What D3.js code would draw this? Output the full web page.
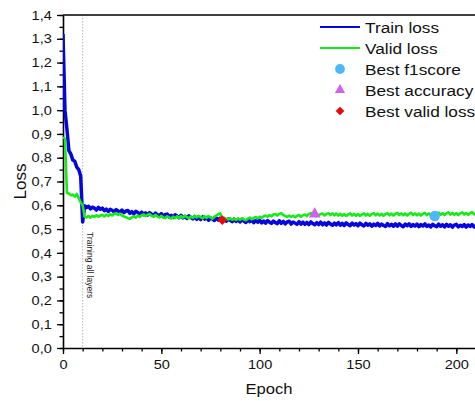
<!DOCTYPE html>
<html>
<head>
<meta charset="utf-8">
<script src="https://cdn.jsdelivr.net/npm/d3@7"></script>
<style>
  body { margin: 0; background: #fff; }
  text { font-family: "Liberation Sans", Arial, sans-serif; }
</style>
</head>
<body>
<div id="chart"></div>
<script>
// loss per epoch
var trainLoss = [
  1.32, 1.00, 0.92, 0.83, 0.815, 0.79, 0.785, 0.76, 0.75, 0.722,
  0.530,
  0.598, 0.591, 0.596, 0.585, 0.592, 0.588, 0.580, 0.591, 0.583,
  0.588, 0.577, 0.584, 0.574, 0.583, 0.579, 0.572, 0.582, 0.576, 0.571,
  0.580, 0.569, 0.576, 0.578, 0.566, 0.573, 0.564, 0.575, 0.570, 0.562,
  0.571, 0.561, 0.568, 0.559, 0.569, 0.563, 0.556, 0.567, 0.560, 0.555,
  0.565, 0.553, 0.561, 0.563, 0.551, 0.558, 0.549, 0.560, 0.555, 0.548,
  0.558, 0.547, 0.554, 0.545, 0.556, 0.549, 0.543, 0.553, 0.541, 0.551,
  0.540, 0.551, 0.542, 0.548, 0.537, 0.547, 0.542, 0.536, 0.546, 0.538,
  0.546, 0.535, 0.543, 0.533, 0.542, 0.537, 0.531, 0.542, 0.532, 0.540,
  0.530, 0.541, 0.533, 0.528, 0.539, 0.531, 0.537, 0.527, 0.536, 0.529,
  0.537, 0.526, 0.534, 0.525, 0.536, 0.529, 0.524, 0.534, 0.527, 0.523,
  0.535, 0.524, 0.532, 0.522, 0.530, 0.533, 0.521, 0.530, 0.525, 0.520,
  0.531, 0.521, 0.529, 0.520, 0.528, 0.519, 0.530, 0.523, 0.518, 0.527,
  0.519, 0.529, 0.518, 0.526, 0.517, 0.528, 0.521, 0.516, 0.525, 0.518,
  0.527, 0.516, 0.524, 0.515, 0.526, 0.519, 0.514, 0.525, 0.517, 0.523,
  0.514, 0.525, 0.518, 0.513, 0.524, 0.516, 0.522, 0.512, 0.521, 0.515,
  0.524, 0.513, 0.521, 0.515, 0.511, 0.523, 0.514, 0.520, 0.512, 0.522,
  0.512, 0.522, 0.515, 0.510, 0.521, 0.514, 0.522, 0.511, 0.519, 0.513,
  0.521, 0.510, 0.519, 0.513, 0.522, 0.511, 0.517, 0.509, 0.520, 0.514,
  0.510, 0.521, 0.512, 0.518, 0.509, 0.520, 0.512, 0.518, 0.508, 0.517,
  0.520, 0.509, 0.516, 0.511, 0.519, 0.508, 0.517, 0.511, 0.519, 0.509,
  0.514
];

var validLoss = [
  0.886, 0.880, 0.652, 0.650, 0.642, 0.645, 0.636, 0.648, 0.630, 0.612, 0.600, 0.552,
  0.549, 0.555, 0.548, 0.556, 0.551, 0.558, 0.552, 0.557,
  0.560, 0.553, 0.561, 0.555, 0.563, 0.557, 0.564, 0.566, 0.559, 0.565,
  0.557, 0.553, 0.550, 0.546, 0.543, 0.549, 0.554, 0.548, 0.557, 0.551,
  0.558, 0.562, 0.554, 0.560, 0.564, 0.556, 0.552, 0.560, 0.553, 0.549,
  0.556, 0.549, 0.546, 0.554, 0.548, 0.544, 0.552, 0.546, 0.554, 0.547,
  0.555, 0.548, 0.556, 0.550, 0.545, 0.553, 0.547, 0.555, 0.549, 0.556,
  0.550, 0.545, 0.554, 0.547, 0.555, 0.549, 0.544, 0.552, 0.557, 0.563,
  0.566, 0.540, 0.547, 0.542, 0.540, 0.546, 0.539, 0.544, 0.538, 0.545,
  0.539, 0.546, 0.541, 0.537, 0.544, 0.548, 0.541, 0.547, 0.551, 0.545,
  0.552, 0.547, 0.554, 0.557, 0.552, 0.559, 0.554, 0.561, 0.563, 0.557,
  0.564, 0.567, 0.559, 0.555, 0.551, 0.557, 0.551, 0.556, 0.550, 0.556,
  0.559, 0.552, 0.558, 0.561, 0.555, 0.563, 0.567, 0.560, 0.558, 0.554,
  0.559, 0.563, 0.565, 0.557, 0.564, 0.567, 0.559, 0.566, 0.558, 0.565,
  0.557, 0.564, 0.556, 0.563, 0.555, 0.561, 0.566, 0.557, 0.564, 0.556,
  0.563, 0.555, 0.561, 0.566, 0.557, 0.564, 0.556, 0.563, 0.567, 0.558,
  0.565, 0.557, 0.564, 0.556, 0.563, 0.567, 0.558, 0.565, 0.557, 0.564,
  0.568, 0.559, 0.566, 0.558, 0.565, 0.557, 0.564, 0.569, 0.559, 0.566,
  0.558, 0.565, 0.557, 0.564, 0.568, 0.559, 0.566, 0.558, 0.565, 0.558,
  0.565, 0.569, 0.560, 0.567, 0.559, 0.566, 0.570, 0.561, 0.568, 0.560,
  0.567, 0.559, 0.566, 0.570, 0.561, 0.568, 0.560, 0.567, 0.571, 0.562,
  0.566
];

// best-epoch markers [epoch, loss]
var bestF1 = [189, 0.555];
var bestAcc = [128, 0.563];
var bestValid = [81, 0.538];
var unfreezeEpoch = 10;

var xTicks = [0, 50, 100, 150, 200];
var yTicks = [0, 0.1, 0.2, 0.3, 0.4, 0.5, 0.6, 0.7, 0.8, 0.9, 1.0, 1.1, 1.2, 1.3, 1.4];

var W = 475, H = 401;
var margin = {top: 15, right: 0, bottom: 53, left: 63};
var width = W - margin.left - margin.right,
    height = H - margin.top - margin.bottom;

var svg = d3.select("#chart")
  .append("svg")
    .attr("width", W)
    .attr("height", H)
  .append("g")
    .attr("transform", `translate(${margin.left},${margin.top})`);

var x = d3.scaleLinear().domain([0, 210]).range([0, 413]);
var y = d3.scaleLinear().domain([0, 1.4]).range([height, 0]);

var comma = function(d) { return d3.format(".1f")(d).replace(".", ","); };

svg.append("clipPath").attr("id", "plotclip")
  .append("rect").attr("width", width).attr("height", height);

// dotted marker where all layers get trained
svg.append("line")
  .attr("x1", x(unfreezeEpoch)).attr("x2", x(unfreezeEpoch))
  .attr("y1", 0).attr("y2", height)
  .attr("stroke", "#aaa")
  .attr("stroke-width", 0.8)
  .attr("stroke-dasharray", "1.5,1.5");

svg.append("text")
  .attr("transform", `translate(${x(unfreezeEpoch) + 4.5},${y(0.5) + 3}) rotate(90)`)
  .style("font-size", "8.5px")
  .attr("fill", "#222")
  .text("Training all layers");

// minor ticks
svg.append("g")
  .attr("transform", `translate(0,${height})`)
  .call(d3.axisBottom(x).tickValues(d3.range(0, 211, 10)).tickSize(3.5).tickFormat(""))
  .call(function(g) { g.select(".domain").remove(); })
  .selectAll("line").attr("stroke-width", 1.3);

svg.append("g")
  .call(d3.axisLeft(y).tickValues(d3.range(0, 1.41, 0.05)).tickSize(3.5).tickFormat(""))
  .call(function(g) { g.select(".domain").remove(); })
  .selectAll("line").attr("stroke-width", 1.3);

// major axes (labels a bit wide, like the original)
var xAxis = svg.append("g")
  .attr("transform", `translate(0,${height})`)
  .call(d3.axisBottom(x).tickValues(xTicks).tickSize(6).tickSizeOuter(0).tickPadding(6));
xAxis.select(".domain").attr("stroke-width", 1.6);
xAxis.selectAll("line").attr("stroke-width", 1.3);
xAxis.selectAll("text").style("font-size", "13px").attr("fill", "#111")
  .attr("transform", "scale(1.12,1)");

var yAxis = svg.append("g")
  .call(d3.axisLeft(y).tickValues(yTicks).tickFormat(comma).tickSize(6).tickSizeOuter(0).tickPadding(4));
yAxis.select(".domain").attr("stroke-width", 1.6);
yAxis.selectAll("line").attr("stroke-width", 1.3);
yAxis.selectAll("text").style("font-size", "13px").attr("fill", "#111")
  .attr("transform", "scale(1.12,1)");

// top frame
svg.append("line")
  .attr("x1", 0).attr("x2", width)
  .attr("y1", 0).attr("y2", 0)
  .attr("stroke", "#000").attr("stroke-width", 1.6);

// lines
var line = d3.line()
  .x(function(d, i) { return x(i); })
  .y(function(d) { return y(d); });

var plot = svg.append("g").attr("clip-path", "url(#plotclip)");

plot.append("path")
  .datum(trainLoss)
  .attr("fill", "none")
  .attr("stroke", "#0505e0")
  .attr("stroke-width", 3.5)
  .attr("stroke-linejoin", "round")
  .attr("d", line);

plot.append("path")
  .datum(validLoss)
  .attr("fill", "none")
  .attr("stroke", "#18ea18")
  .attr("stroke-width", 2.6)
  .attr("stroke-linejoin", "round")
  .attr("d", line);

// best markers
var f1Color = "#4db8f7", accColor = "#d35ef0", validColor = "#e80a0a";
plot.append("path")
  .attr("d", d3.symbol(d3.symbolCircle, 85)())
  .attr("transform", `translate(${x(bestF1[0])},${y(bestF1[1])})`)
  .attr("fill", f1Color);
plot.append("path")
  .attr("d", d3.symbol(d3.symbolTriangle, 60)())
  .attr("transform", `translate(${x(bestAcc[0])},${y(bestAcc[1])})`)
  .attr("fill", accColor);
plot.append("path")
  .attr("d", d3.symbol(d3.symbolSquare, 48)())
  .attr("transform", `translate(${x(bestValid[0])},${y(bestValid[1])}) rotate(45)`)
  .attr("fill", validColor);

// axis titles
svg.append("text")
  .attr("transform", `translate(${width / 2},${height + 46}) scale(1.11,1)`)
  .style("text-anchor", "middle")
  .style("font-size", "15px")
  .attr("fill", "#111")
  .text("Epoch");

svg.append("text")
  .attr("transform", "rotate(-90)")
  .attr("x", -height / 2)
  .attr("y", -margin.left + 26)
  .style("text-anchor", "middle")
  .style("font-size", "17px")
  .attr("fill", "#111")
  .text("Loss");

// legend
var legend = svg.append("g").attr("transform", "translate(257,12)");
var items = [
  {name: "Train loss", kind: "line", color: "#0505e0"},
  {name: "Valid loss", kind: "line", color: "#18ea18"},
  {name: "Best f1score", kind: d3.symbolCircle, size: 75, color: f1Color},
  {name: "Best accuracy", kind: d3.symbolTriangle, size: 45, color: accColor},
  {name: "Best valid loss", kind: d3.symbolSquare, size: 38, color: validColor}
];
items.forEach(function(it, i) {
  var row = legend.append("g").attr("transform", `translate(0,${i * 21})`);
  if (it.kind === "line") {
    row.append("line")
      .attr("x1", 0).attr("x2", 40)
      .attr("stroke", it.color).attr("stroke-width", 2);
  } else {
    row.append("path")
      .attr("d", d3.symbol(it.kind, it.size)())
      .attr("transform", it.kind === d3.symbolSquare ? "translate(20,0) rotate(45)" : "translate(20,0)")
      .attr("fill", it.color);
  }
  row.append("text")
    .attr("transform", "translate(45,5.5) scale(1.15,1)")
    .style("font-size", "15px")
    .attr("fill", "#111")
    .text(it.name);
});
</script>
</body>
</html>
